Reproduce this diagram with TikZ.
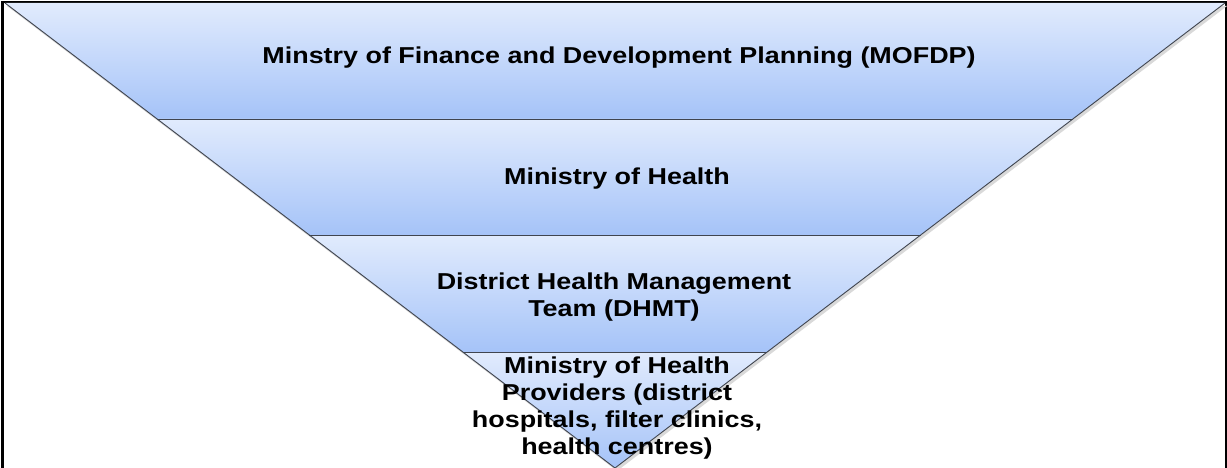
\documentclass[tikz,border=0pt]{standalone}
\usepackage{fontspec}
\setmainfont[FakeStretch=1.17]{Liberation Sans}
\definecolor{bandtop}{HTML}{E1EBFD}
\definecolor{bandbot}{HTML}{A5C3F8}
\definecolor{bandline}{HTML}{40454F}

\begin{document}
\begin{tikzpicture}[x=1pt,y=-1pt,
    band/.style={top color=bandtop,bottom color=bandbot},
    bandedge/.style={draw=bandline,line width=0.9pt,line join=round},
    tierlabel/.style={font=\bfseries\fontsize{23}{27}\selectfont,align=center,text=black}]
        \useasboundingbox (0,0) rectangle (1227,468);
        % outer frame
            \draw[line width=2.5pt] (2.5,480) -- (2.5,2) -- (1226,2) -- (1226,480);
        % soft shadow of the funnel
            \fill[black!15] (7,6) -- (1227,6) -- (617,471) -- cycle;
        % draw the four bands
            \foreach \t/\b in {3/119,119/235,235/352,352/468}{
                \pgfmathsetmacro{\lt}{5+(\t-3)/465*610}
                \pgfmathsetmacro{\lb}{5+(\b-3)/465*610}
                \shade[band] (\lt,\t) -- (1230-\lt,\t) -- (1230-\lb,\b) -- (\lb,\b) -- cycle;
            }
        % draw the band borders
            \foreach \b in {119,235,352}{
                \pgfmathsetmacro{\lb}{5+(\b-3)/465*610}
                \draw[bandedge] (\lb,\b) -- (1230-\lb,\b);
            }
            \draw[bandedge] (5,3) -- (615,468) -- (1225,3);

            \node[tierlabel] (mofdp) at (619,58) {Minstry of Finance and Development Planning (MOFDP)};
            \node[tierlabel] (moh) at (617,179) {Ministry of Health};
            \node[tierlabel] (dhmt) at (614,297) {District Health Management\\Team (DHMT)};
            \node[tierlabel] (providers) at (617,408) {Ministry of Health\\Providers (district\\hospitals, filter clinics,\\health centres)};
\end{tikzpicture}
\end{document}
